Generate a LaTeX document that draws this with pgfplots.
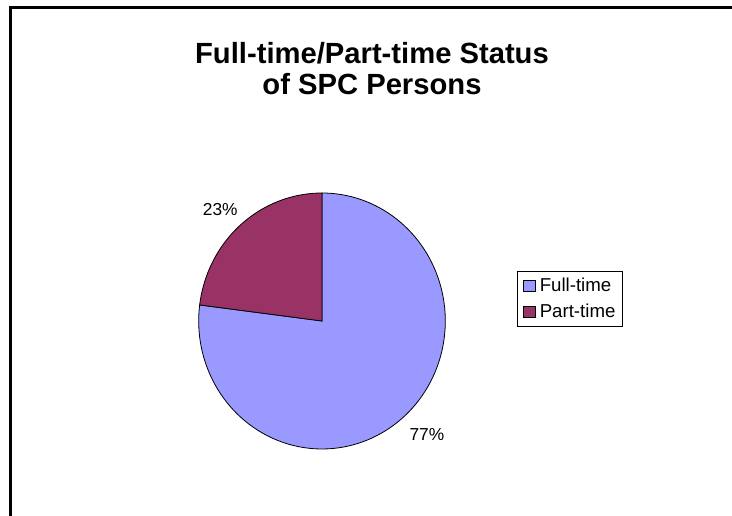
\documentclass[border=0pt]{standalone}
\usepackage{pgfplots}
\pgfplotsset{compat=1.18}
\usepgfplotslibrary{polar}
\usepackage{fontspec}
\setmainfont{Liberation Sans}
\definecolor{fullc}{HTML}{9999FF}
\definecolor{partc}{HTML}{993366}
\begin{document}
\begin{tikzpicture}
\useasboundingbox (0,0) rectangle (549pt,387pt);
\draw[line width=1.9pt] (7.7pt,-5pt) -- (7.7pt,381.2pt) -- (555pt,381.2pt);
\node[font=\bfseries\fontsize{21.9}{25}\selectfont, anchor=base, inner sep=0pt] at (279pt,339.5pt) {Full-time/Part-time Status};
\node[font=\bfseries\fontsize{21.9}{25}\selectfont, anchor=base, inner sep=0pt] at (279pt,315.75pt) {of SPC Persons};
\begin{polaraxis}[
  at={(241.5pt,146.25pt)}, anchor=center,
  scale only axis, width=185pt, height=192pt,
  hide axis, ymin=0, ymax=1, xmin=0, xmax=360,
  clip=false,
  legend cell align=left,
  legend style={at={(1.292,0.586)}, anchor=west, draw=black, line width=0.6pt,
    font=\fontsize{14}{15}\selectfont, row sep=4pt, inner xsep=3pt, inner ysep=3pt},
  legend image code/.code={\path[draw=none,fill=none] (0pt,0pt) -- (11.5pt,0pt);\draw[#1, draw=black, line width=0.5pt] (1.5pt,-4.2pt) rectangle (10pt,4.2pt);},
]
% Full-time 77%, Part-time 23% (starting at 90 deg, part-time counter-clockwise)
\addplot[fill=fullc, draw=black, line width=0.6pt, domain={90+23*3.6}:450, samples=120] {1} -- (axis cs:0,0) -- cycle;
\addlegendentry{Full-time}
\addplot[fill=partc, draw=black, line width=0.6pt, domain=90:{90+23*3.6}, samples=40] {1} -- (axis cs:0,0) -- cycle;
\addlegendentry{Part-time}
\node[font=\fontsize{13}{15}\selectfont] at (axis cs:133.4,1.20) {23\%};
\node[font=\fontsize{13}{15}\selectfont] at (axis cs:313.7,1.231) {77\%};
\end{polaraxis}
\end{tikzpicture}
\end{document}
